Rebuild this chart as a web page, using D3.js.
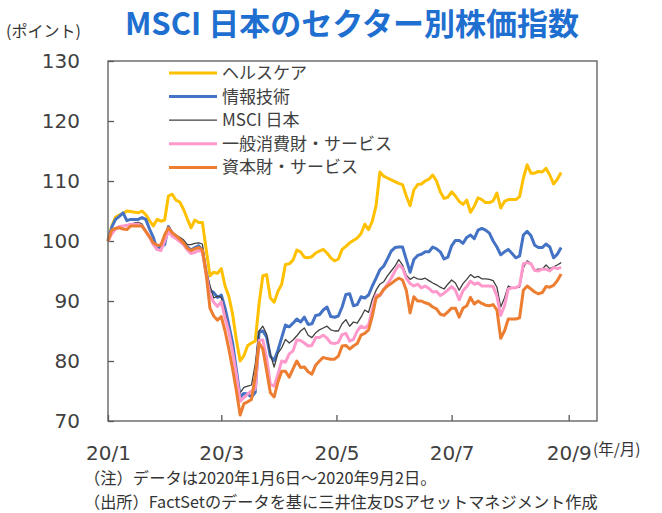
<!DOCTYPE html>
<html lang="ja">
<head>
<meta charset="utf-8">
<title>MSCI 日本のセクター別株価指数</title>
<script src="https://d3js.org/d3.v7.min.js"></script>
<style>
body,html{
  margin: 0;
  padding: 0;
  background: #fff;
}
svg{
  display: block;
  font-family: "Noto Sans CJK JP", "Noto Sans", sans-serif;
}
.axis text{
  font-family: "DejaVu Sans", sans-serif;
  font-size: 20px;
  fill: #404040;
}
.axis line{
  stroke: #595959;
  stroke-width: 1.3;
}
</style>
</head>
<body>
<script>

// dates (2020), sampled every two days from 1/6 to 9/2
var dates = ["01-06","01-08","01-10","01-12","01-14","01-16","01-18","01-20","01-22","01-24",
  "01-26","01-28","01-30","02-01","02-03","02-05","02-07","02-09","02-11","02-13",
  "02-15","02-17","02-19","02-21","02-23","02-25","02-27","02-29","03-02","03-04",
  "03-06","03-08","03-10","03-12","03-14","03-16","03-18","03-20","03-22","03-24",
  "03-26","03-28","03-30","04-01","04-03","04-05","04-07","04-09","04-11","04-13",
  "04-15","04-17","04-19","04-21","04-23","04-25","04-27","04-29","05-01","05-03",
  "05-05","05-07","05-09","05-11","05-13","05-15","05-17","05-19","05-21","05-23",
  "05-25","05-27","05-29","05-31","06-02","06-04","06-06","06-08","06-10","06-12",
  "06-14","06-16","06-18","06-20","06-22","06-24","06-26","06-28","06-30","07-02",
  "07-04","07-06","07-08","07-10","07-12","07-14","07-16","07-18","07-20","07-22",
  "07-24","07-26","07-28","07-30","08-01","08-03","08-05","08-07","08-09","08-11",
  "08-13","08-15","08-17","08-19","08-21","08-23","08-25","08-27","08-29","08-31",
  "09-02"];

var healthcare = [100,102.5,104.0,104.3,104.6,105.0,104.9,104.8,104.7,105.0,
  104.4,103.4,102.5,103.6,103.3,103.5,107.5,107.8,106.8,106.5,
  105.3,103.7,102.2,103.5,103.1,103.1,98.6,94.2,94.8,94.6,
  95.4,92.5,90.8,87.8,83.5,80.0,80.9,82.6,83.0,83.3,
  89.5,94.2,94.4,90.5,89.8,91.6,92.8,96.1,96.2,96.8,
  98.5,98.2,97.3,97.2,97.4,98.0,98.3,98.6,98.0,97.2,
  96.7,97.0,98.6,99.1,99.7,100.1,100.5,101.2,102.8,101.9,
  103.3,105.9,111.5,110.8,110.5,110.2,109.9,109.6,109.4,107.5,
  105.9,108.5,109.4,109.5,110.0,110.3,111.0,110.0,108.2,107.1,
  107.3,108.2,107.5,106.6,106.1,106.8,104.8,105.8,107.2,106.9,
  106.4,106.4,106.7,108.0,105.5,106.6,106.9,106.9,106.9,107.4,
  110.5,112.7,111.3,111.3,111.6,111.5,112.1,111.0,109.5,110.3,
  111.4];

var infoTech = [100,102.3,103.6,104.1,104.7,103.4,103.6,103.6,103.6,103.9,
  103.6,102.0,100.6,98.6,99.1,99.4,102.4,101.3,100.8,100.3,
  99.7,99.0,98.5,98.9,99.2,98.5,94.8,91.8,91.4,90.6,
  91.0,88.8,86.0,83.0,78.5,74.0,74.6,74.5,74.0,74.8,
  84.8,85.0,84.0,80.8,80.1,81.8,83.9,86.0,85.7,86.3,
  87.0,86.5,87.3,86.1,86.2,87.6,87.7,88.5,89.0,87.4,
  87.3,87.5,89.0,91.1,91.2,89.2,89.4,90.7,90.5,91.0,
  92.5,93.8,95.2,95.8,97.0,98.3,98.9,99.0,99.0,96.9,
  94.8,96.9,97.6,97.8,98.2,98.2,99.0,98.7,98.2,97.0,
  97.3,99.2,100.1,100.1,99.6,100.6,101.0,100.4,101.8,102.1,
  101.8,101.3,100.0,99.0,97.7,98.2,98.6,97.9,97.2,97.5,
  101.0,101.6,100.9,99.3,98.9,98.9,99.5,99.0,97.2,97.8,
  98.9];

var msciJapan = [100,101.5,102.2,102.5,102.5,102.7,102.8,103.0,103.1,102.8,
  101.8,100.8,99.8,99.3,99.2,100.8,102.0,101.4,101.0,100.6,
  100.2,99.4,99.4,99.6,99.7,99.5,95.0,92.6,90.5,90.8,
  90.6,88.1,84.8,82.0,77.5,74.7,75.6,75.8,76.0,79.5,
  85.0,85.8,84.5,81.1,79.0,81.3,82.2,83.6,83.0,83.5,
  84.2,85.0,85.5,84.3,83.9,84.7,85.2,85.5,85.8,85.2,
  85.0,85.0,86.2,86.9,85.8,86.5,86.3,87.3,88.5,88.1,
  90.3,91.8,92.8,93.2,94.2,95.0,95.8,96.9,96.0,94.3,
  93.6,94.0,93.7,93.6,93.8,93.4,93.0,92.7,92.3,92.0,
  92.8,93.5,93.0,91.8,92.9,93.6,94.4,93.9,94.1,93.7,
  93.7,93.6,93.4,92.3,89.0,90.5,92.5,92.2,92.2,92.3,
  95.5,96.7,96.3,95.2,95.3,95.3,96.0,95.4,95.7,96.0,
  96.4];

var consumer = [100,101.2,102.0,102.4,102.5,102.6,102.8,102.8,102.8,102.5,
  101.6,100.6,99.4,98.6,98.4,100.0,101.6,100.8,100.4,99.9,
  99.4,98.5,97.9,98.1,98.4,98.2,94.5,91.0,89.8,89.1,
  89.9,87.2,84.8,81.5,77.7,73.3,73.9,74.5,75.0,75.3,
  83.4,83.5,80.5,76.1,75.8,77.8,80.0,79.8,81.2,81.7,
  83.5,83.4,83.0,82.5,82.6,83.9,83.9,84.3,83.8,83.0,
  82.9,83.1,84.4,84.6,83.3,83.6,85.0,85.8,85.5,86.0,
  88.6,91.0,90.9,91.9,92.8,93.8,95.0,96.0,95.5,93.8,
  92.9,92.5,92.8,92.2,92.5,92.1,91.5,91.6,90.9,91.3,
  91.8,92.4,91.8,90.2,91.7,92.4,93.3,92.8,93.0,92.5,
  92.5,92.5,92.4,90.8,87.6,89.2,92.0,92.2,92.2,92.6,
  96.2,96.4,96.2,95.1,95.0,95.3,95.3,95.0,95.6,95.4,
  95.6];

var capital = [100,101.8,102.1,102.2,102.0,101.9,102.5,102.5,102.5,102.5,
  101.6,100.7,99.7,99.3,99.3,101.0,102.2,101.4,100.9,100.3,
  99.7,98.8,98.4,98.7,98.9,98.5,94.5,88.8,87.5,86.8,
  87.4,85.0,82.0,78.7,75.0,71.0,72.9,73.2,73.6,77.5,
  83.0,82.0,78.4,74.7,74.0,76.5,78.3,78.3,77.3,78.7,
  80.0,78.9,79.0,78.2,77.8,79.3,80.0,80.6,80.4,80.3,
  80.3,80.8,82.5,82.6,82.0,82.5,82.9,84.3,84.6,85.2,
  87.5,90.5,91.0,91.9,92.5,92.9,93.4,93.8,93.5,91.8,
  88.0,90.7,90.0,90.0,89.7,89.5,89.0,88.7,87.8,87.6,
  88.2,88.8,88.8,87.3,88.8,89.2,90.6,89.5,90.0,89.6,
  89.3,89.2,89.4,88.5,83.8,85.0,87.0,87.0,87.0,87.2,
  91.8,92.5,92.0,91.5,91.2,91.4,92.4,92.3,92.6,93.4,
  94.5];

var seriesNames = ["ヘルスケア", "情報技術", "MSCI 日本", "一般消費財・サービス", "資本財・サービス"];
var seriesValues = [healthcare, infoTech, msciJapan, consumer, capital];
var colors = ["#FFC000", "#4472C4", "#404040", "#FF99CC", "#ED7D31"];
var widths = [3, 3, 1.3, 3, 3];

var xTicks = ["01-06", "03-06", "05-06", "07-06", "09-06"];
var yTicks = [70, 80, 90, 100, 110, 120, 130];


var w = 662;
var h = 513;
var plot = {left: 108, right: 597, top: 61, bottom: 421};

var parse = d3.timeParse("%Y-%m-%d");
function toDate(s){ return parse("2020-" + s); }

var svg = d3.select("body")
  .append("svg")
  .attr("width", w)
  .attr("height", h);

var x = d3.scaleTime()
  .domain([toDate("01-06"), toDate("09-21")])
  .range([plot.left, plot.right]);

var y = d3.scaleLinear()
  .domain([70, 130])
  .range([plot.bottom, plot.top]);

// title
svg.append("text")
  .attr("x", 352)
  .attr("y", 35)
  .attr("text-anchor", "middle")
  .style("font-size", "31px")
  .style("font-weight", "bold")
  .style("fill", "#1F6FD0")
  .text("MSCI 日本のセクター別株価指数");

svg.append("text")
  .attr("x", 6)
  .attr("y", 37)
  .style("font-size", "16px")
  .style("fill", "#333")
  .text("(ポイント)");

// axes
var xAxis = d3.axisBottom(x)
  .tickValues(xTicks.map(toDate))
  .tickFormat(d3.timeFormat("%y/%-m"))
  .tickSizeInner(-6)
  .tickSizeOuter(0)
  .tickPadding(25);

var yAxis = d3.axisLeft(y)
  .tickValues(yTicks)
  .tickSizeInner(-6)
  .tickSizeOuter(0)
  .tickPadding(28);

svg.append("g")
  .attr("class", "axis")
  .attr("transform", "translate(0," + plot.bottom + ")")
  .call(xAxis)
  .call(function(g){ g.select(".domain").remove(); });

svg.append("g")
  .attr("class", "axis")
  .attr("transform", "translate(" + plot.left + ",0)")
  .call(yAxis)
  .call(function(g){ g.select(".domain").remove(); });

svg.append("text")
  .attr("x", 593)
  .attr("y", 455)
  .style("font-size", "15.5px")
  .style("fill", "#333")
  .text("(年/月)");

// lines
var line = d3.line()
  .x(function(d, i){ return x(toDate(dates[i])); })
  .y(function(d){ return y(d); });

svg.append("g")
  .selectAll("path")
  .data(seriesValues)
  .enter()
  .append("path")
  .attr("d", line)
  .style("fill", "none")
  .style("stroke", function(d, i){ return colors[i]; })
  .style("stroke-width", function(d, i){ return widths[i]; })
  .style("stroke-linejoin", "round");

// frame
svg.append("rect")
  .attr("x", plot.left)
  .attr("y", plot.top)
  .attr("width", plot.right - plot.left)
  .attr("height", plot.bottom - plot.top)
  .style("fill", "none")
  .style("stroke", "#595959")
  .style("stroke-width", 1.3);

// legend
var legend = svg.append("g")
  .selectAll("g")
  .data(seriesNames)
  .enter()
  .append("g")
  .attr("transform", function(d, i){ return "translate(169," + (73 + i * 23.6) + ")"; });

legend.append("line")
  .attr("x1", 0)
  .attr("x2", 48)
  .style("stroke", function(d, i){ return colors[i]; })
  .style("stroke-width", function(d, i){ return widths[i]; });

legend.append("text")
  .attr("x", 53)
  .attr("dy", "0.35em")
  .style("font-size", "17px")
  .style("fill", "#404040")
  .text(function(d){ return d; });

// notes
svg.append("text")
  .attr("x", 84)
  .attr("y", 484)
  .style("font-size", "16.3px")
  .style("fill", "#333")
  .text("（注）データは2020年1月6日～2020年9月2日。");

svg.append("text")
  .attr("x", 84)
  .attr("y", 508)
  .style("font-size", "16.2px")
  .style("fill", "#333")
  .text("（出所）FactSetのデータを基に三井住友DSアセットマネジメント作成");

</script>
</body>
</html>
